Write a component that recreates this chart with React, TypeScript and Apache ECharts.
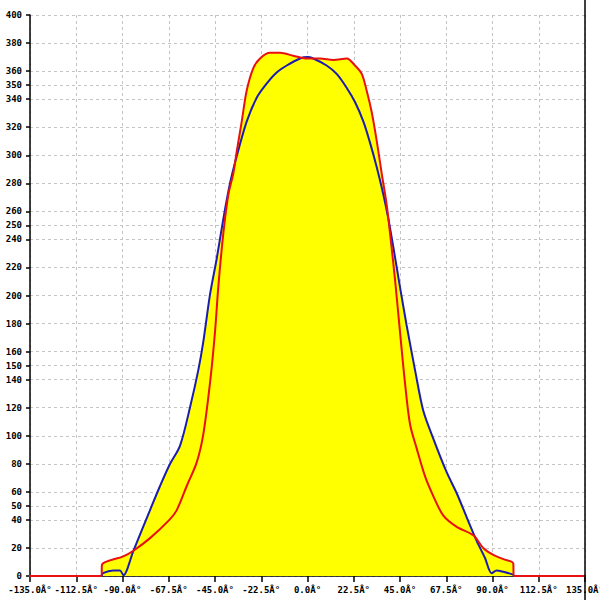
import React, { useEffect, useRef } from "react";
import * as echarts from "echarts";

const xTicks = [-135, -112.5, -90, -67.5, -45, -22.5, 0, 22.5, 45, 67.5, 90, 112.5, 135];
const xLabels = ["-135.0Â°", "-112.5Â°", "-90.0Â°", "-67.5Â°", "-45.0Â°", "-22.5Â°", "0.0Â°", "22.5Â°", "45.0Â°", "67.5Â°", "90.0Â°", "112.5Â°", "135.0Â°"];
const yTicks = [0, 20, 40, 50, 60, 80, 100, 120, 140, 150, 160, 180, 200, 220, 240, 250, 260, 280, 300, 320, 340, 350, 360, 380, 400];

const blueAngles = [-100, -99.5, -94.5, -91.2, -89.6, -84.7, -76.6, -71.8, -67.2, -62, -57.2, -53.1, -50.7, -47.4, -44.2, -40.9, -37.7, -34.5, -29.6, -24.7, -19.9, -15, -10.1, -3.6, 0, 2.8, 9.3, 14.2, 19.1, 23.1, 27.2, 30.4, 33.6, 36.9, 39.3, 41.7, 45, 48.2, 52.3, 56.3, 61.2, 67.7, 72.6, 77.4, 82.3, 86.3, 89.6, 92, 95.3, 100, 100.5];
const blueValues = [0, 2, 4, 4, 0.5, 18, 47, 64, 79, 93, 120, 147, 167, 201, 226, 255, 280, 299, 324, 341, 351, 359, 364, 369, 370, 369, 364, 358, 348, 338, 324, 309, 292, 272, 255, 235, 206, 179, 147, 118, 98, 74, 59, 42, 25, 13, 2, 4, 3, 1, 0];

const redAngles = [-180, -100.2, -100, -89.6, -84.7, -76.6, -67.2, -63.6, -58.8, -53.9, -50.7, -47.4, -45, -43.4, -40.9, -38.5, -36.1, -34.5, -32, -29.6, -26.4, -23.1, -18.2, -13.4, -6.9, -0.4, 6.1, 12.6, 19.1, 23.1, 26.4, 28.8, 31.2, 33.6, 36.1, 38.5, 40.1, 42.6, 45, 47.4, 49.9, 53.1, 57.2, 61.2, 66.1, 72.6, 80.7, 85.5, 90.4, 95.3, 100.1, 100.3, 180];
const redValues = [0, 0, 8, 14, 18, 27, 40, 47, 64, 81, 101, 138, 174, 206, 245, 272, 287, 302, 324, 346, 362, 369, 373, 373, 371, 369, 369, 368, 369, 364, 358, 346, 331, 311, 287, 265, 245, 211, 174, 138, 108, 91, 71, 57, 43, 35, 29, 20, 15, 12, 9, 0, 0];

const FONT = "DejaVu Sans Mono";

export default function App() {
  const ref = useRef<HTMLDivElement>(null);
  useEffect(() => {
    if (!ref.current) return;
    const chart = echarts.init(ref.current, null, { renderer: "svg" });
    const blue = blueAngles.map((a, i) => [a, blueValues[i]]);
    const red = redAngles.map((a, i) => [a, redValues[i]]);
    const gridLine = { show: true, lineStyle: { color: "#c4c4c4", type: [3, 3], width: 1 } };
    const labelStyle = { color: "#000", fontFamily: FONT, fontSize: 9, fontWeight: "bold" as const };
    const SM = 0.3;
    chart.setOption({
      animation: false,
      backgroundColor: "#ffffff",
      grid: { left: 30, right: 15, top: 15, bottom: 24, containLabel: false, outerBoundsMode: "none" },
      xAxis: {
        type: "value",
        min: -135,
        max: 135,
        interval: 22.5,
        axisLine: { show: true, onZero: false, lineStyle: { color: "#000", width: 1.5 } },
        axisTick: { show: true, length: 6, customValues: xTicks, lineStyle: { color: "#000", width: 1.5 } },
        axisLabel: {
          ...labelStyle,
          customValues: xTicks,
          formatter: (v: number) => xLabels[xTicks.indexOf(v)] ?? "",
          margin: 9,
          showMinLabel: true,
          showMaxLabel: true,
          hideOverlap: false,
        },
        splitLine: gridLine,
      },
      yAxis: [
        {
          type: "value",
          min: 0,
          max: 400,
          axisLine: { show: true, onZero: false, lineStyle: { color: "#000", width: 1.5 } },
          axisTick: { show: true, length: 4, customValues: yTicks, lineStyle: { color: "#000", width: 1.5 } },
          axisLabel: { ...labelStyle, customValues: yTicks, margin: 8 },
          splitLine: gridLine,
        },
      ],
      graphic: [
        {
          type: "line",
          shape: { x1: 585, y1: 0, x2: 585, y2: 600 },
          style: { stroke: "#000", lineWidth: 1.5 },
          z: 100,
        },
      ],
      series: [
        {
          type: "line",
          data: blue,
          showSymbol: false,
          smooth: SM,
          lineStyle: { width: 0, opacity: 0 },
          areaStyle: { color: "#ffff00", opacity: 1 },
          z: 1,
        },
        {
          type: "line",
          data: red,
          showSymbol: false,
          smooth: SM,
          clip: false,
          lineStyle: { width: 0, opacity: 0 },
          areaStyle: { color: "#ffff00", opacity: 1 },
          z: 1,
        },
        {
          type: "line",
          data: blue,
          showSymbol: false,
          smooth: SM,
          lineStyle: { color: "#1c1cb0", width: 2 },
          z: 3,
        },
        {
          type: "line",
          data: red,
          showSymbol: false,
          smooth: SM,
          clip: false,
          lineStyle: { color: "#e81010", width: 2 },
          z: 4,
        },
      ],
    });
    return () => chart.dispose();
  }, []);
  return <div ref={ref} style={{ position: "fixed", left: 0, top: 0, width: 600, height: 600 }} />;
}
